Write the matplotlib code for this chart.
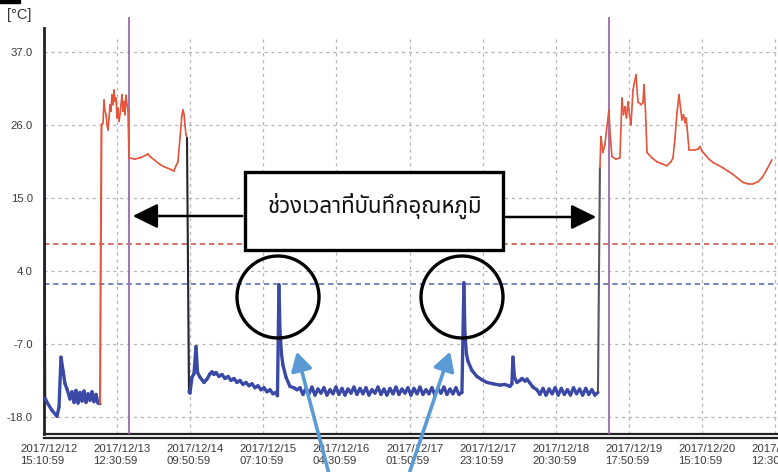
import numpy as np
import pandas as pd
import matplotlib
matplotlib.use("Agg")
import matplotlib.pyplot as plt
from matplotlib import font_manager
from matplotlib.ft2font import FT2Font
from matplotlib.collections import LineCollection
from matplotlib.patches import Rectangle, Circle, FancyArrowPatch
from matplotlib.transforms import ScaledTranslation

# ---------------- data ----------------
start_time = "2017/12/12 15:10:59"
tick_labels = ["2017/12/12 15:10:59", "2017/12/13 12:30:59", "2017/12/14 09:50:59",
               "2017/12/15 07:10:59", "2017/12/16 04:30:59", "2017/12/17 01:50:59",
               "2017/12/17 23:10:59", "2017/12/18 20:30:59", "2017/12/19 17:50:59",
               "2017/12/20 15:10:59", "2017/12/21 12:30:59"]
y_ticks = [37.0, 26.0, 15.0, 4.0, -7.0, -18.0]
period_marks = ["2017/12/13 15:59:00", "2017/12/19 12:05:00"]   # purple lines
limit_high = 8.0     # red dashed
limit_low = 2.0      # blue dashed
annotation_text = "ช่วงเวลาที่บันทึกอุณหภูมิ"

# hours since start, temperature (degC)
seg1_h = [0.00, 0.35, 0.88, 2.33, 3.79, 4.38, 4.96, 5.54, 6.13, 6.71, 7.59, 8.17, 8.76, 9.34,
          9.92, 10.51, 11.09, 11.67, 12.26, 12.84, 13.42, 14.01, 14.59, 15.18, 15.76, 16.34]
seg1_v = [40.5, -15.2, -15.8, -17.0, -17.9, -16.5, -9.0, -11.0, -13.0, -13.8, -15.3, -14.2, -15.8, -14.0,
          -15.9, -14.3, -15.6, -14.1, -15.8, -14.5, -15.5, -14.2, -15.7, -14.6, -15.9, -16.0]
seg2_h = [16.78, 17.22, 17.51, 17.80, 18.09, 18.38, 18.68, 18.97, 19.26, 19.55, 19.84, 20.13, 20.43,
          20.72, 21.01, 21.30, 21.59, 21.88, 22.18, 22.47, 22.76, 23.05, 23.34, 23.64, 23.93, 24.22,
          24.51, 24.80, 26.55, 28.01, 29.76, 30.35, 30.93, 32.39, 33.85, 35.31, 36.77, 37.93, 38.52,
          39.10, 39.68, 40.27, 40.56, 40.85, 41.14, 41.43, 41.73]
seg2_v = [26.0, 26.2, 29.7, 28.0, 27.5, 26.0, 25.2, 27.0, 29.0, 28.0, 30.5, 29.0, 31.2,
          29.5, 30.0, 27.0, 28.5, 26.5, 27.5, 29.0, 30.5, 28.0, 29.5, 27.5, 30.4, 29.0,
          28.2, 21.0, 20.8, 21.0, 21.4, 21.6, 21.2, 20.6, 20.0, 19.6, 19.3, 19.0, 19.8,
          20.4, 24.0, 27.5, 28.2, 27.6, 26.0, 24.5, 24.0]
seg3_h = [42.31, 42.60, 43.19, 43.77, 44.36, 44.80, 45.52, 46.11, 46.69, 47.57, 48.44, 49.02, 49.61,
          50.19, 51.07, 51.94, 52.82, 53.70, 54.57, 55.45, 56.32, 57.19, 58.07, 58.94, 59.82, 60.69,
          61.57, 62.44, 63.32, 64.20, 65.07, 65.95, 66.82, 67.70, 68.13, 68.57, 68.86, 69.30, 69.74,
          70.62, 71.78, 72.95, 73.83]
seg3_v = [-14.2, -14.4, -12.0, -11.5, -7.4, -11.3, -12.0, -12.4, -12.8, -12.3, -11.5, -11.2, -11.6,
          -11.3, -11.9, -11.6, -12.2, -11.9, -12.5, -12.2, -12.8, -12.5, -13.1, -12.8, -13.3, -13.0,
          -13.6, -13.3, -13.9, -13.6, -14.2, -13.9, -14.5, -14.3, -14.8, 1.9, -5.0, -8.5, -10.2,
          -12.0, -13.4, -13.6, -13.9]
flat1_range = (74.70, 121.97)
flat1_v = [-13.6, -14.6, -13.7, -14.5, -13.5, -14.7, -13.8, -14.4, -13.6, -14.7, -13.9, -14.5,
           -13.5, -14.6, -13.7, -14.7, -13.8, -14.4, -13.5, -14.6, -13.7, -14.5, -13.6, -14.7,
           -13.9, -14.4, -13.5, -14.6, -13.8, -14.7, -13.7, -14.5, -13.5, -14.6, -13.8, -14.4,
           -13.6, -14.7, -13.7, -14.5, -13.5, -14.6, -13.9, -14.5, -13.6, -14.7, -13.7, -14.4,
           -13.5, -14.6, -13.8, -14.5, -13.6, -14.6, -14.3]
seg4_h = [122.55, 122.84, 123.28, 123.72, 124.89, 126.35, 127.81, 129.27, 131.02, 133.06, 134.52,
          135.98, 136.56, 136.86, 137.29, 138.02, 138.90, 139.48, 140.36, 140.94, 141.82, 142.69,
          143.86]
seg4_v = [2.2, -5.5, -8.5, -9.6, -11.0, -11.9, -12.4, -12.8, -13.0, -13.2, -13.1,
          -13.4, -13.0, -9.0, -12.0, -12.8, -12.5, -12.2, -12.6, -12.3, -12.9, -13.5,
          -13.9]
flat2_range = (144.73, 161.66)
flat2_v = [-14.6, -13.7, -14.7, -13.8, -14.5, -13.6, -14.7, -13.7, -14.6, -13.9, -14.7,
           -13.6, -14.5, -13.8, -14.7, -13.7, -14.6, -13.9, -14.7, -14.3]
seg5_h = [162.24, 162.53, 163.12, 163.70, 164.28, 164.87, 165.16, 165.74, 166.91, 168.08, 168.66,
          169.10, 169.54, 169.98, 170.43, 170.86, 171.31, 171.89, 172.77, 173.35, 174.23, 174.81,
          175.10, 175.54, 175.98, 177.44, 178.90, 180.36, 181.81, 182.98, 183.56, 184.15, 184.73,
          185.32, 185.75, 186.19, 186.63, 187.07, 187.36, 187.65, 188.24, 189.99, 190.86, 191.45,
          192.03, 192.91, 194.08, 195.24, 196.70, 198.16, 199.62, 201.08, 202.54, 204.00, 205.46,
          206.92, 208.38, 209.55, 211.01, 212.43]
seg5_v = [19.5, 24.2, 21.8, 23.0, 25.7, 28.2, 25.0, 21.2, 20.8, 21.0, 30.0,
          27.5, 28.7, 27.0, 29.4, 27.5, 26.0, 31.2, 33.5, 29.4, 29.0, 29.3,
          32.0, 28.0, 21.8, 21.0, 20.4, 20.1, 19.8, 20.4, 21.0, 24.0, 27.8,
          30.5, 28.5, 26.7, 27.5, 26.3, 27.0, 25.7, 22.2, 22.2, 22.3, 22.7,
          22.0, 21.5, 20.8, 20.3, 19.9, 19.5, 19.0, 18.5, 17.9, 17.3, 17.1,
          17.1, 17.4, 18.0, 19.3, 20.7]

# ---------------- styles ----------------
RED = "#e4553b"
BLUE = "#3b49a6"
transition_colors = ["#222228", "#e4553b", "#222228", "#55555c"]
THRESH = 5.0
W, H, DPI = 778, 472, 100


def thai_font():
    prefs = ["Noto Sans Thai", "Noto Sans Thai UI", "Noto Serif Thai", "Loma", "Garuda",
             "Norasi", "Kinnari", "Sawasdee", "Waree", "Umpush", "Tlwg Typo", "Leelawadee UI",
             "Tahoma", "Arial Unicode MS", "DejaVu Sans", "FreeSans"]
    have = []
    for f in font_manager.fontManager.ttflist:
        try:
            ft = FT2Font(f.fname)
            if ft.get_char_index(0x0E0A) and ft.get_char_index(0x0E17):
                have.append(f.name)
        except Exception:
            pass
    for p in prefs:
        if p in have:
            return p
    return have[0] if have else "DejaVu Sans"


TH_FONT = thai_font()
plt.rcParams["font.family"] = ["Liberation Sans", "DejaVu Sans"]

t0 = pd.to_datetime(start_time)
tick_h = [(pd.to_datetime(s) - t0) / pd.Timedelta(hours=1) for s in tick_labels]
mark_h = [(pd.to_datetime(s) - t0) / pd.Timedelta(hours=1) for s in period_marks]

flat1_h = np.linspace(flat1_range[0], flat1_range[1], len(flat1_v))
flat2_h = np.linspace(flat2_range[0], flat2_range[1], len(flat2_v))
hours = np.concatenate([seg1_h, seg2_h, seg3_h, flat1_h, seg4_h, flat2_h, seg5_h])
temps = np.concatenate([seg1_v, seg2_v, seg3_v, flat1_v, seg4_v, flat2_v, seg5_v])

# ---------------- figure ----------------
fig = plt.figure(figsize=(W / DPI, H / DPI), dpi=DPI)
ax_left, ax_right, ax_top, ax_bot = 44, 778, 17, 434
ax = fig.add_axes([ax_left / W, (H - ax_bot) / H, (ax_right - ax_left) / W, (ax_bot - ax_top) / H])

px_per_deg = (417 - 51.5) / (37 - (-18))
ymin = -18 - (ax_bot - 417) / px_per_deg
ymax = 37 + (51.5 - ax_top) / px_per_deg
px_per_h = (775 - 44) / tick_h[-1]
xmax = (ax_right - ax_left) / px_per_h
ax.set_xlim(0, xmax)
ax.set_ylim(ymin, ymax)

# grid
grid_kw = dict(color="#b5b5b5", lw=0.9, dashes=(2.5, 3))
for yv in y_ticks:
    ax.axhline(yv, zorder=1, **grid_kw)
vtop = 37 + (51.5 - 38) / px_per_deg
for th in tick_h:
    ax.plot([th, th], [ymin, vtop], zorder=1, **grid_kw)

# limit lines
ax.axhline(limit_high, color="#c84a3e", lw=1.1, dashes=(3.5, 2.5), zorder=2)
ax.axhline(limit_low, color="#5464a8", lw=1.1, dashes=(3.5, 2.5), zorder=2)

# purple period markers
for mh in mark_h:
    ax.axvline(mh, color="#a068ac", lw=1.3, zorder=3)

# data line, coloured by level
pts = np.column_stack([hours, temps])
segs = np.stack([pts[:-1], pts[1:]], axis=1)
colors, widths = [], []
ti = 0
for a, b in zip(temps[:-1], temps[1:]):
    if a > THRESH and b > THRESH:
        colors.append(RED); widths.append(1.2)
    elif a < THRESH and b < THRESH:
        colors.append(BLUE); widths.append(2.4)
    else:
        colors.append(transition_colors[ti % len(transition_colors)]); widths.append(1.5)
        ti += 1
lc = LineCollection(segs, colors=colors, linewidths=widths, zorder=4, capstyle="round",
                    joinstyle="round")
ax.add_collection(lc)

# axes styling
for s in ["top", "right"]:
    ax.spines[s].set_visible(False)
ax.spines["left"].set_linewidth(2.0)
ax.spines["left"].set_color("#222222")
ax.spines["left"].set_bounds(ymin, max(temps))
ax.spines["bottom"].set_linewidth(1.6)
ax.spines["bottom"].set_color("#222222")
ax.set_yticks(y_ticks)
ax.set_yticklabels([f"{v:.1f}" for v in y_ticks])
ax.set_xticks(tick_h)
ax.set_xticklabels([s.replace(" ", "\n") for s in tick_labels])
ax.tick_params(axis="both", length=0, labelsize=8.2, labelcolor="#3a3a3a")
ax.tick_params(axis="y", pad=8)
ax.tick_params(axis="x", pad=7)
off = ScaledTranslation(5 / DPI, 0, fig.dpi_scale_trans)
for lab in ax.get_xticklabels():
    lab.set_multialignment("left")
    lab.set_transform(lab.get_transform() + off)
    lab.set_linespacing(1.25)

# second bottom rule (double line)
fig.add_artist(plt.Line2D([ax_left / W, 1], [(H - 437.5) / H] * 2, color="#222222", lw=1.6))

fig.text(7 / W, 1 - 15 / H, "[°C]", fontsize=10.5, color="#333333", va="center", ha="left")
fig.add_artist(Rectangle((0, H - 3), 20, 3, transform=None, color="black"))

# ---------------- annotations (pixel-positioned, figure space) ----------------
def P(x, y):
    return (x / DPI, (H - y) / DPI)

tr = fig.dpi_scale_trans
box_l, box_t, box_r, box_b = 245, 172, 503, 250
fig.add_artist(Rectangle(P(box_l, box_b), (box_r - box_l) / DPI, (box_b - box_t) / DPI,
                         transform=tr, facecolor="white", edgecolor="black", lw=2.4, zorder=6))
fig.text(375 / W, 1 - 206 / H, annotation_text, family=[TH_FONT, "DejaVu Sans"], fontsize=16,
         ha="center", va="center", color="#111111", zorder=7)

arrow_kw = dict(transform=tr, arrowstyle="-|>,head_length=0.85,head_width=0.42",
                mutation_scale=18, color="black", lw=1.8, zorder=6)
fig.add_artist(FancyArrowPatch(P(box_l, 216), P(130, 216), **arrow_kw))
fig.add_artist(FancyArrowPatch(P(box_r, 217), P(599, 217), **arrow_kw))

for cx, cy in [(278, 297), (462, 297)]:
    fig.add_artist(Circle(P(cx, cy), 41 / DPI, transform=tr, fill=False,
                          edgecolor="black", lw=2.4, zorder=6))

blue_kw = dict(transform=tr, arrowstyle="-|>,head_length=0.7,head_width=0.4",
               mutation_scale=16, color="#5b9bd5", lw=2.6, zorder=6)
fig.add_artist(FancyArrowPatch(P(329, 474), P(296, 349), **blue_kw))
fig.add_artist(FancyArrowPatch(P(409, 474), P(451, 349), **blue_kw))

fig.savefig("out.png", dpi=DPI)
